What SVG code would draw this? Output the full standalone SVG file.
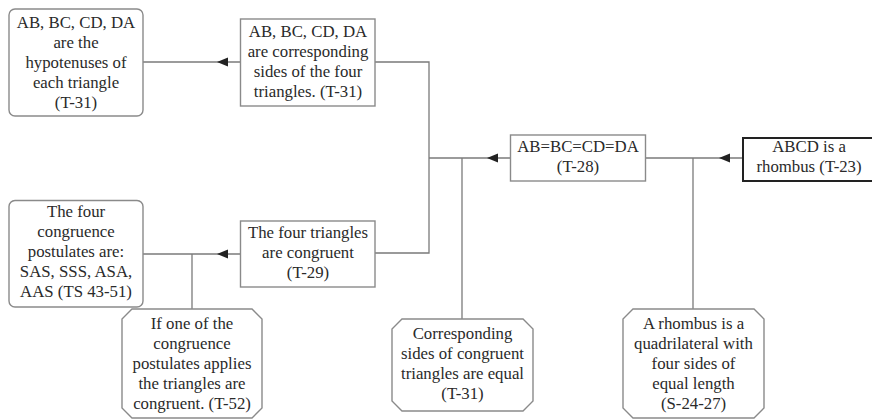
<svg xmlns="http://www.w3.org/2000/svg" xmlns:xlink="http://www.w3.org/1999/xlink" width="872" height="419" viewBox="0 0 872 419">
<style>
.box{fill:#fff;stroke:#8a8a8a;stroke-width:1.4}
.bold{fill:#fff;stroke:#222;stroke-width:2}
.ln{fill:none;stroke:#7a7a7a;stroke-width:1.3}
.ah{fill:#222}
text{font-family:"Liberation Serif","Times New Roman",serif;font-size:16.8px;fill:#2a2a2a;text-anchor:middle}
</style>
<defs>
<path id="ah" d="M0,0 L11,-4.5 L11,4.5 Z"/>
</defs>
<rect width="872" height="419" fill="#fff"/>
<g id="connectors">
<path class="ln" d="M143,62 H240"/>
<path class="ln" d="M375,62 H429 V253 H375"/>
<path class="ln" d="M429,158 H510"/>
<path class="ln" d="M462,158 V319"/>
<path class="ln" d="M646,158 H743"/>
<path class="ln" d="M693,158 V309"/>
<path class="ln" d="M143,254 H240"/>
<path class="ln" d="M192,254 V309"/>
<use class="ah" xlink:href="#ah" x="217" y="62"/>
<use class="ah" xlink:href="#ah" x="487" y="158"/>
<use class="ah" xlink:href="#ah" x="719" y="158"/>
<use class="ah" xlink:href="#ah" x="217" y="254"/>
</g>
<g id="n1">
<rect class="box" x="9" y="9" width="134" height="107" rx="6"/>
<text x="76" y="28">AB, BC, CD, DA</text>
<text x="76" y="48">are the</text>
<text x="76" y="68">hypotenuses of</text>
<text x="76" y="88">each triangle</text>
<text x="76" y="108">(T-31)</text>
</g>
<g id="n2">
<rect class="box" x="240.5" y="19" width="134.5" height="87"/>
<text x="308" y="37">AB, BC, CD, DA</text>
<text x="308" y="57">are corresponding</text>
<text x="308" y="77">sides of the four</text>
<text x="308" y="97">triangles. (T-31)</text>
</g>
<g id="n3">
<rect class="box" x="510.5" y="135" width="135" height="46"/>
<text x="578" y="152">AB=BC=CD=DA</text>
<text x="578" y="172">(T-28)</text>
</g>
<g id="n4">
<rect class="bold" x="743" y="138" width="134" height="43"/>
<text x="809" y="152">ABCD is a</text>
<text x="809" y="172">rhombus (T-23)</text>
</g>
<g id="n5">
<rect class="box" x="240.5" y="221" width="134.5" height="66"/>
<text x="308" y="238">The four triangles</text>
<text x="308" y="258">are congruent</text>
<text x="308" y="278">(T-29)</text>
</g>
<g id="n6">
<rect class="box" x="9" y="200.5" width="134" height="106.5" rx="6"/>
<text x="76" y="217">The four</text>
<text x="76" y="237">congruence</text>
<text x="76" y="257">postulates are:</text>
<text x="76" y="277">SAS, SSS, ASA,</text>
<text x="76" y="297">AAS (TS 43-51)</text>
</g>
<g id="n7">
<path class="box" d="M132,309 H252 L262,319 V408 L252,418 H132 L122,408 V319 Z"/>
<text x="192" y="329">If one of the</text>
<text x="192" y="349">congruence</text>
<text x="192" y="369">postulates applies</text>
<text x="192" y="389">the triangles are</text>
<text x="192" y="409">congruent. (T-52)</text>
</g>
<g id="n8">
<path class="box" d="M402,319 H523 L533,329 V401 L523,411 H402 L392,401 V329 Z"/>
<text x="462.5" y="339">Corresponding</text>
<text x="462.5" y="359">sides of congruent</text>
<text x="462.5" y="379">triangles are equal</text>
<text x="462.5" y="399">(T-31)</text>
</g>
<g id="n9">
<path class="box" d="M633,309 H754 L764,319 V408 L754,418 H633 L623,408 V319 Z"/>
<text x="693.5" y="329">A rhombus is a</text>
<text x="693.5" y="349">quadrilateral with</text>
<text x="693.5" y="369">four sides of</text>
<text x="693.5" y="389">equal length</text>
<text x="693.5" y="409">(S-24-27)</text>
</g>
</svg>
